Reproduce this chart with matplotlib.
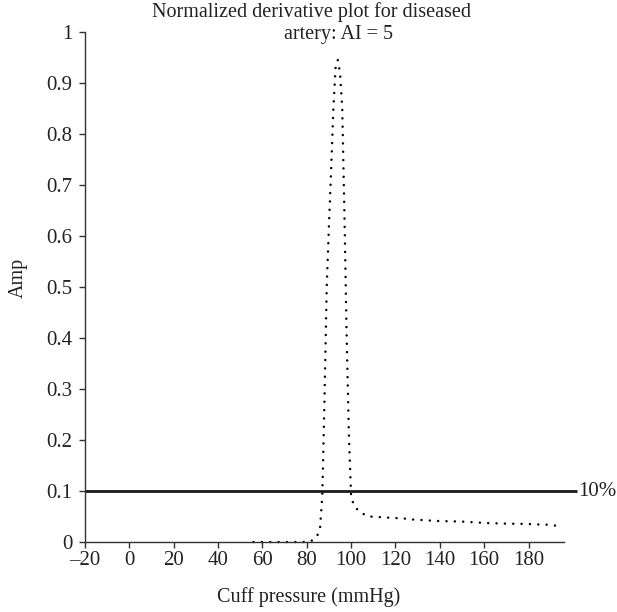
import matplotlib
matplotlib.use("Agg")
import matplotlib.pyplot as plt
from matplotlib.ticker import FuncFormatter

# Data
pressure = [56, 70, 80, 82, 84, 85, 86, 87, 88, 89, 90, 91, 92, 93, 94, 95, 96, 97, 98, 99,
            100, 101, 102, 105, 108, 112, 116, 120, 124, 128, 132, 136, 140, 146, 150, 154,
            158, 162, 170, 178, 184, 188, 191, 194.5]
amp = [0.0, 0.0, 0.0, 0.002, 0.008, 0.015, 0.028, 0.09, 0.28, 0.50, 0.62, 0.73, 0.85, 0.93,
       0.945, 0.92, 0.85, 0.64, 0.40, 0.21, 0.09, 0.075, 0.067, 0.056, 0.050, 0.049, 0.048,
       0.047, 0.046, 0.044, 0.043, 0.042, 0.041, 0.0405, 0.040, 0.039, 0.038, 0.037, 0.036,
       0.0355, 0.0345, 0.034, 0.033, 0.030]
threshold = 0.1
threshold_label = "10%"
x_ticks = [-20, 0, 20, 40, 60, 80, 100, 120, 140, 160, 180]
y_ticks = [0, 0.1, 0.2, 0.3, 0.4, 0.5, 0.6, 0.7, 0.8, 0.9, 1.0]
title_line1 = "Normalized derivative plot for diseased"
title_line2 = "artery: AI = 5"
x_label = "Cuff pressure (mmHg)"
y_label = "Amp"

plt.rcParams['font.family'] = ['Liberation Serif', 'DejaVu Serif']

fig = plt.figure(figsize=(6.17, 6.12), dpi=100)
ax = fig.add_axes([85/617, 1 - 542/612, (564 - 85)/617, (542 - 32)/612])

ax.plot(pressure, amp, color='black', lw=1.8, linestyle=(0, (0.01, 3.33)),
        dash_capstyle='round', clip_on=False)
ax.plot([-20, 202], [threshold, threshold], color='#1a1a1a', lw=2, clip_on=False,
        solid_capstyle='butt')
ax.text(202.5, threshold, threshold_label, fontsize=15, va='center', ha='left',
        color='#222222')

ax.set_xlim(-20, 196)
ax.set_ylim(0, 1)
ax.set_xticks(x_ticks)
ax.set_yticks(y_ticks)
ax.yaxis.set_major_formatter(FuncFormatter(lambda v, p: f"{v:g}"))
ax.xaxis.set_major_formatter(FuncFormatter(lambda v, p: f"{int(v)}".replace('-', '\u2013')))

for s in ['top', 'right']:
    ax.spines[s].set_visible(False)
for s in ['left', 'bottom']:
    ax.spines[s].set_color('#333333')
    ax.spines[s].set_linewidth(1.0)
ax.tick_params(direction='out', length=4.5, width=1.0, color='#333333',
               labelsize=15, labelcolor='#222222', pad=4.5)
ax.tick_params(axis='x', pad=2)

fig.text(311/617, 1 - 12/612, title_line1, fontsize=14.5, ha='center', va='center', color='#222222')
fig.text(338/617, 1 - 34/612, title_line2, fontsize=14.5, ha='center', va='center', color='#222222')
fig.text(309/617, 1 - 597/612, x_label, fontsize=14.5, ha='center', va='center', color='#222222')
fig.text(18/617, 1 - 278/612, y_label, fontsize=14.5, ha='center', va='center', rotation=90,
         color='#222222')

fig.savefig("out.png", dpi=100)
